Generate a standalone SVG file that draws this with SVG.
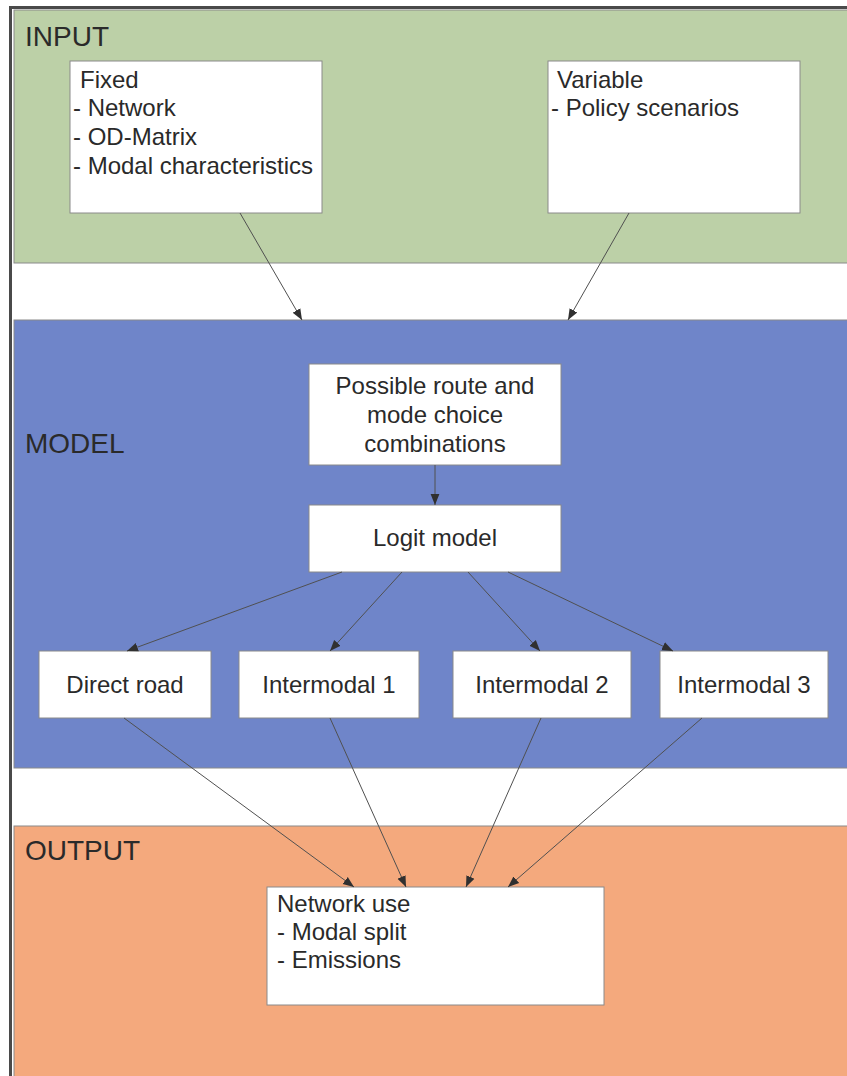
<svg xmlns="http://www.w3.org/2000/svg" width="847" height="1076" viewBox="0 0 847 1076">
<style>
text{font-family:"Liberation Sans",Arial,sans-serif;fill:#2a2a2a}
.lbl{font-size:28px}
.t{font-size:24px}
.c{text-anchor:middle}
.box{fill:#ffffff;stroke:#8a8a8a;stroke-width:1}
.band{stroke:#8a8a8a;stroke-width:1}
.con{stroke:#505050;stroke-width:1;fill:none;marker-end:url(#ah)}
</style>
<defs>
<marker id="ah" viewBox="0 0 10 10" refX="10" refY="5" markerWidth="11" markerHeight="11" markerUnits="userSpaceOnUse" orient="auto">
<path d="M0,1 L10,5 L0,9 z" fill="#303030"/>
</marker>
</defs>
<rect x="0" y="0" width="847" height="1076" fill="#ffffff"/>
<rect x="10.5" y="7.5" width="850" height="1080" fill="none" stroke="#4a4a4a" stroke-width="3"/>
<g id="input">
<rect class="band" x="14" y="10" width="840" height="253" fill="#bcd0a7"/>
<text class="lbl" x="25" y="46">INPUT</text>
</g>
<g id="model">
<rect class="band" x="14" y="320" width="840" height="448" fill="#6f85c9"/>
<text class="lbl" x="25" y="453">MODEL</text>
</g>
<g id="output">
<rect class="band" x="14" y="826" width="840" height="260" fill="#f4a97d"/>
<text class="lbl" x="25" y="860">OUTPUT</text>
</g>
<g id="fixed">
<rect class="box" x="70" y="61" width="252" height="152"/>
<text class="t" x="80" y="88">Fixed</text>
<text class="t" x="73" y="116">- Network</text>
<text class="t" x="73" y="145">- OD-Matrix</text>
<text class="t" x="73" y="174">- Modal characteristics</text>
</g>
<g id="variable">
<rect class="box" x="548" y="61" width="252" height="152"/>
<text class="t" x="557" y="88">Variable</text>
<text class="t" x="551" y="116">- Policy scenarios</text>
</g>
<g id="combinations">
<rect class="box" x="309" y="364" width="252" height="101"/>
<text class="t c" x="435" y="394">Possible route and</text>
<text class="t c" x="435" y="423">mode choice</text>
<text class="t c" x="435" y="452">combinations</text>
</g>
<g id="logit">
<rect class="box" x="309" y="505" width="252" height="67"/>
<text class="t c" x="435" y="546">Logit model</text>
</g>
<g id="direct">
<rect class="box" x="39" y="651" width="172" height="67"/>
<text class="t c" x="125" y="693">Direct road</text>
</g>
<g id="im1">
<rect class="box" x="239" y="651" width="180" height="67"/>
<text class="t c" x="329" y="693">Intermodal 1</text>
</g>
<g id="im2">
<rect class="box" x="453" y="651" width="178" height="67"/>
<text class="t c" x="542" y="693">Intermodal 2</text>
</g>
<g id="im3">
<rect class="box" x="660" y="651" width="168" height="67"/>
<text class="t c" x="744" y="693">Intermodal 3</text>
</g>
<g id="network-use">
<rect class="box" x="267" y="887" width="337" height="118"/>
<text class="t" x="277" y="912">Network use</text>
<text class="t" x="277" y="940">- Modal split</text>
<text class="t" x="277" y="968">- Emissions</text>
</g>
<g id="connectors">
<line class="con" x1="240" y1="213" x2="302" y2="320"/>
<line class="con" x1="629" y1="213" x2="568" y2="320"/>
<line class="con" x1="435" y1="465" x2="435" y2="505"/>
<line class="con" x1="342" y1="572" x2="127" y2="651"/>
<line class="con" x1="402" y1="572" x2="330" y2="651"/>
<line class="con" x1="468" y1="572" x2="540" y2="651"/>
<line class="con" x1="508" y1="572" x2="673" y2="651"/>
<line class="con" x1="124" y1="718" x2="354" y2="887"/>
<line class="con" x1="330" y1="718" x2="406" y2="887"/>
<line class="con" x1="541" y1="718" x2="466" y2="887"/>
<line class="con" x1="702" y1="718" x2="508" y2="887"/>
</g>
</svg>
